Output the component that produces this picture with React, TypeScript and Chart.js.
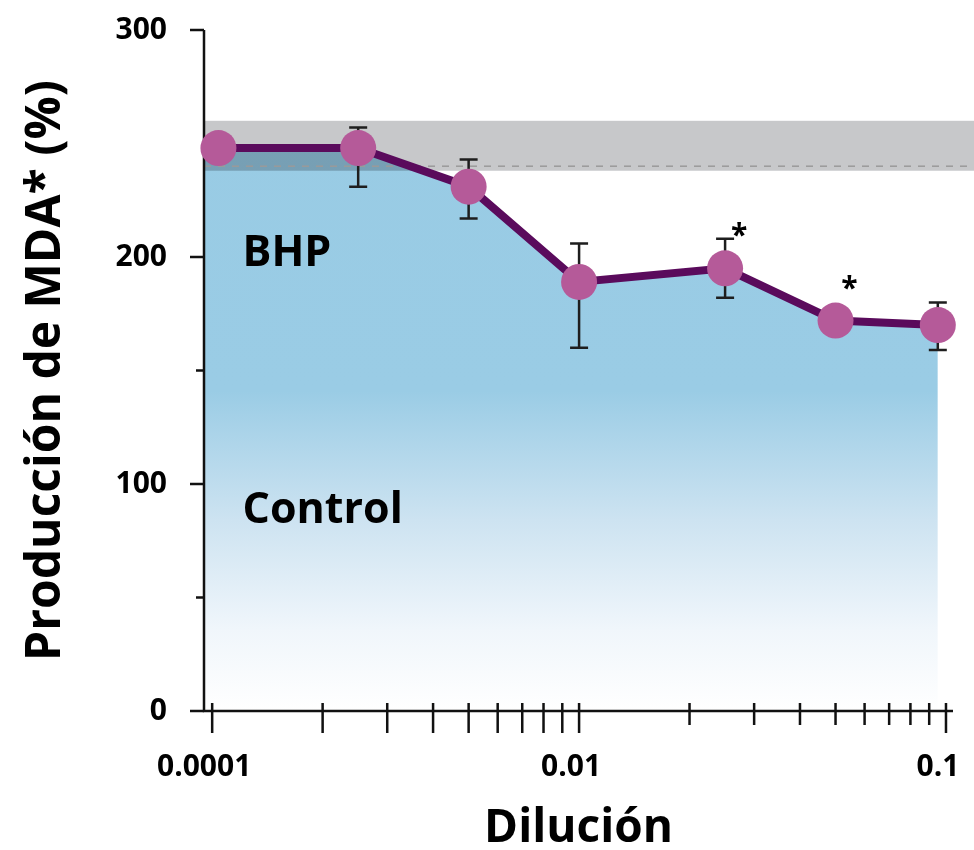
import React, { useEffect, useRef } from 'react';
import { Chart, registerables } from 'chart.js';

Chart.register(...registerables);

const FONT = '"Open Sans", "DejaVu Sans", sans-serif';

// ---- data ----
const DILUTION = [0.00104, 0.0025, 0.005, 0.01, 0.025, 0.05, 0.095];
const MDA_PCT = [248, 248, 231, 189, 195, 172, 170];
const ERR_LOW: (number | null)[] = [null, 231, 217, 160, 182, null, 159];
const ERR_HIGH: (number | null)[] = [null, 257, 243, 206, 208, null, 180];
const SIGNIFICANT = [false, false, false, false, true, true, false];

const CONTROL_BAND = [238, 260];
const CONTROL_MEAN = 240;

const X_MIN = 0.00095;
const X_MAX = 0.1045;
const X_TICKS = [
  0.001, 0.002, 0.003, 0.004, 0.005, 0.006, 0.007, 0.008, 0.009,
  0.01, 0.02, 0.03, 0.04, 0.05, 0.06, 0.07, 0.08, 0.09, 0.1,
];
const X_TICK_LABELS = [
  '0.0001', '', '', '', '', '', '', '', '',
  '0.01', '', '', '', '', '', '', '', '', '0.1',
];
const X_LONG_TICKS = [
  true, true, true, true, true, true, true, true, true,
  true, false, false, false, false, false, false, false, false, true,
];
const Y_MIN = 0;
const Y_MAX = 300;
const Y_STEP = 100;
const Y_MAJOR = [0, 100, 200, 300];
const Y_MINOR = [50, 150];

const AREA_LABELS = [
  { text: 'BHP', x: 0.00121, y: 196 },
  { text: 'Control', x: 0.00121, y: 83 },
];

const Y_TITLE = 'Producción de MDA* (%)';
const X_TITLE = 'Dilución';

// ---- styles ----
const LINE_COLOR = '#5A0B5C';
const POINT_COLOR = '#B55A99';
const BAND_COLOR = '#C7C8CA';
const AXIS_COLOR = '#111111';
const ERR_COLOR = '#1E1E1E';

const overlayPlugin = {
  id: 'overlay',
  afterDatasetDraw(chart: any, args: any) {
    if (args.index !== 0) return;
    const { ctx, chartArea: ca, scales } = chart;
    const x = scales.x;
    const y = scales.y;
    // control band, multiplied over the fill
    ctx.save();
    ctx.globalCompositeOperation = 'multiply';
    ctx.fillStyle = BAND_COLOR;
    const bTop = y.getPixelForValue(CONTROL_BAND[1]);
    const bBot = y.getPixelForValue(CONTROL_BAND[0]);
    ctx.fillRect(ca.left, bTop, chart.width - ca.left, bBot - bTop);
    ctx.restore();
    // dashed mean line
    ctx.save();
    ctx.strokeStyle = '#9A9A9A';
    ctx.lineWidth = 1.5;
    ctx.setLineDash([7, 7]);
    const ym = y.getPixelForValue(CONTROL_MEAN);
    ctx.beginPath();
    ctx.moveTo(ca.left, ym);
    ctx.lineTo(chart.width, ym);
    ctx.stroke();
    ctx.restore();
    // axis lines
    ctx.save();
    ctx.strokeStyle = AXIS_COLOR;
    ctx.lineWidth = 2.5;
    ctx.beginPath();
    ctx.moveTo(ca.left, ca.top);
    ctx.lineTo(ca.left, ca.bottom + 1.25);
    ctx.moveTo(ca.left - 1.25, ca.bottom);
    ctx.lineTo(ca.right, ca.bottom);
    ctx.stroke();
    ctx.restore();
    // area labels
    ctx.save();
    ctx.fillStyle = '#000';
    ctx.font = `bold 43px ${FONT}`;
    ctx.textAlign = 'left';
    ctx.textBaseline = 'alphabetic';
    AREA_LABELS.forEach((l) => {
      ctx.fillText(l.text, x.getPixelForValue(l.x), y.getPixelForValue(l.y));
    });
    ctx.restore();
    // error bars
    ctx.save();
    ctx.strokeStyle = ERR_COLOR;
    ctx.lineWidth = 2.5;
    DILUTION.forEach((d, i) => {
      const lo = ERR_LOW[i];
      const hi = ERR_HIGH[i];
      if (lo == null || hi == null) return;
      const px = x.getPixelForValue(d);
      const pl = y.getPixelForValue(lo);
      const ph = y.getPixelForValue(hi);
      ctx.beginPath();
      ctx.moveTo(px, pl);
      ctx.lineTo(px, ph);
      ctx.moveTo(px - 9, pl);
      ctx.lineTo(px + 9, pl);
      ctx.moveTo(px - 9, ph);
      ctx.lineTo(px + 9, ph);
      ctx.stroke();
    });
    ctx.restore();
  },
  afterDraw(chart: any) {
    const { ctx, chartArea: ca, scales } = chart;
    const x = scales.x;
    const y = scales.y;
    ctx.save();
    ctx.strokeStyle = AXIS_COLOR;
    ctx.lineWidth = 2.5;
    ctx.beginPath();
    X_TICKS.forEach((v, i) => {
      const px = x.getPixelForValue(v);
      ctx.moveTo(px, ca.bottom - 8);
      ctx.lineTo(px, ca.bottom + (X_LONG_TICKS[i] ? 22 : 14));
    });
    Y_MAJOR.forEach((v) => {
      const py = y.getPixelForValue(v);
      ctx.moveTo(ca.left - 14, py);
      ctx.lineTo(ca.left, py);
    });
    Y_MINOR.forEach((v) => {
      const py = y.getPixelForValue(v);
      ctx.moveTo(ca.left - 8, py);
      ctx.lineTo(ca.left, py);
    });
    ctx.stroke();
    ctx.restore();
    // significance stars
    ctx.save();
    ctx.fillStyle = '#000';
    ctx.font = `bold 30px ${FONT}`;
    ctx.textAlign = 'center';
    ctx.textBaseline = 'alphabetic';
    DILUTION.forEach((d, i) => {
      if (!SIGNIFICANT[i]) return;
      const px = x.getPixelForValue(d);
      const py = y.getPixelForValue(MDA_PCT[i]);
      ctx.fillText('*', px + 14, py - 23);
    });
    ctx.restore();
  },
};

export default function App() {
  const canvasRef = useRef<HTMLCanvasElement | null>(null);

  useEffect(() => {
    document.body.style.margin = '0';
    const canvas = canvasRef.current;
    if (!canvas) return;
    const points = DILUTION.map((d, i) => ({ x: d, y: MDA_PCT[i] }));
    const fillPoints = [{ x: X_MIN, y: MDA_PCT[0] }, ...points];

    const chart = new Chart(canvas, {
      type: 'line',
      data: {
        datasets: [
          {
            label: 'fill',
            data: fillPoints,
            order: 3,
            borderWidth: 0,
            pointRadius: 0,
            fill: 'start',
            backgroundColor: (c: any) => {
              const ca = c.chart.chartArea;
              if (!ca) return '#98CBE4';
              const g = c.chart.ctx.createLinearGradient(0, ca.top, 0, ca.bottom);
              g.addColorStop(0, '#98CBE4');
              g.addColorStop(0.53, '#9ACCE5');
              g.addColorStop(0.72, '#CDE3F1');
              g.addColorStop(0.88, '#F0F6FB');
              g.addColorStop(1, '#FFFFFF');
              return g;
            },
          } as any,
          {
            label: 'BHP',
            data: points,
            order: 2,
            borderColor: LINE_COLOR,
            borderWidth: 8,
            pointRadius: 0,
            fill: false,
            clip: false,
          } as any,
          {
            label: 'points',
            data: points,
            order: 1,
            showLine: false,
            pointRadius: 18,
            pointHoverRadius: 18,
            pointBorderWidth: 0,
            pointBackgroundColor: POINT_COLOR,
            fill: false,
            clip: false,
          } as any,
        ],
      },
      options: {
        responsive: false,
        animation: false,
        events: [],
        layout: { padding: { top: 30, right: 21, left: 0, bottom: 0 } },
        plugins: {
          legend: { display: false },
          tooltip: { enabled: false },
        },
        scales: {
          x: {
            type: 'logarithmic',
            min: X_MIN,
            max: X_MAX,
            afterBuildTicks: (s: any) => {
              s.ticks = X_TICKS.map((v) => ({ value: v }));
            },
            afterFit: (s: any) => {
              s.height = 139;
              s.paddingLeft = 0;
              s.paddingRight = 0;
            },
            grid: { display: false },
            border: { display: false },
            ticks: {
              autoSkip: false,
              maxRotation: 0,
              minRotation: 0,
              padding: 30,
              labelOffset: -8,
              color: '#000',
              font: { family: FONT, size: 30, weight: 'bold' },
              callback: (_v: any, i: number) => X_TICK_LABELS[i] ?? '',
            },
            title: {
              display: true,
              text: X_TITLE,
              color: '#000',
              font: { family: FONT, size: 46, weight: 'bold', lineHeight: 0.9 },
              padding: { top: 0, bottom: 0 },
            },
          } as any,
          y: {
            type: 'linear',
            min: Y_MIN,
            max: Y_MAX,
            afterFit: (s: any) => {
              s.width = 204;
              s.paddingTop = 0;
              s.paddingBottom = 0;
            },
            grid: { display: false },
            border: { display: false },
            ticks: {
              stepSize: Y_STEP,
              padding: 29,
              color: '#000',
              font: { family: FONT, size: 30, weight: 'bold' },
            },
            title: {
              display: true,
              text: Y_TITLE,
              color: '#000',
              font: { family: FONT, size: 48, weight: 'bold', lineHeight: 1.2 },
              padding: { top: 18, bottom: 0 },
            },
          } as any,
        },
      },
      plugins: [overlayPlugin],
    } as any);

    return () => chart.destroy();
  }, []);

  return (
    <div style={{ width: 974, height: 850 }}>
      <canvas ref={canvasRef} width={974} height={850} style={{ width: 974, height: 850, display: 'block' }} />
    </div>
  );
}
